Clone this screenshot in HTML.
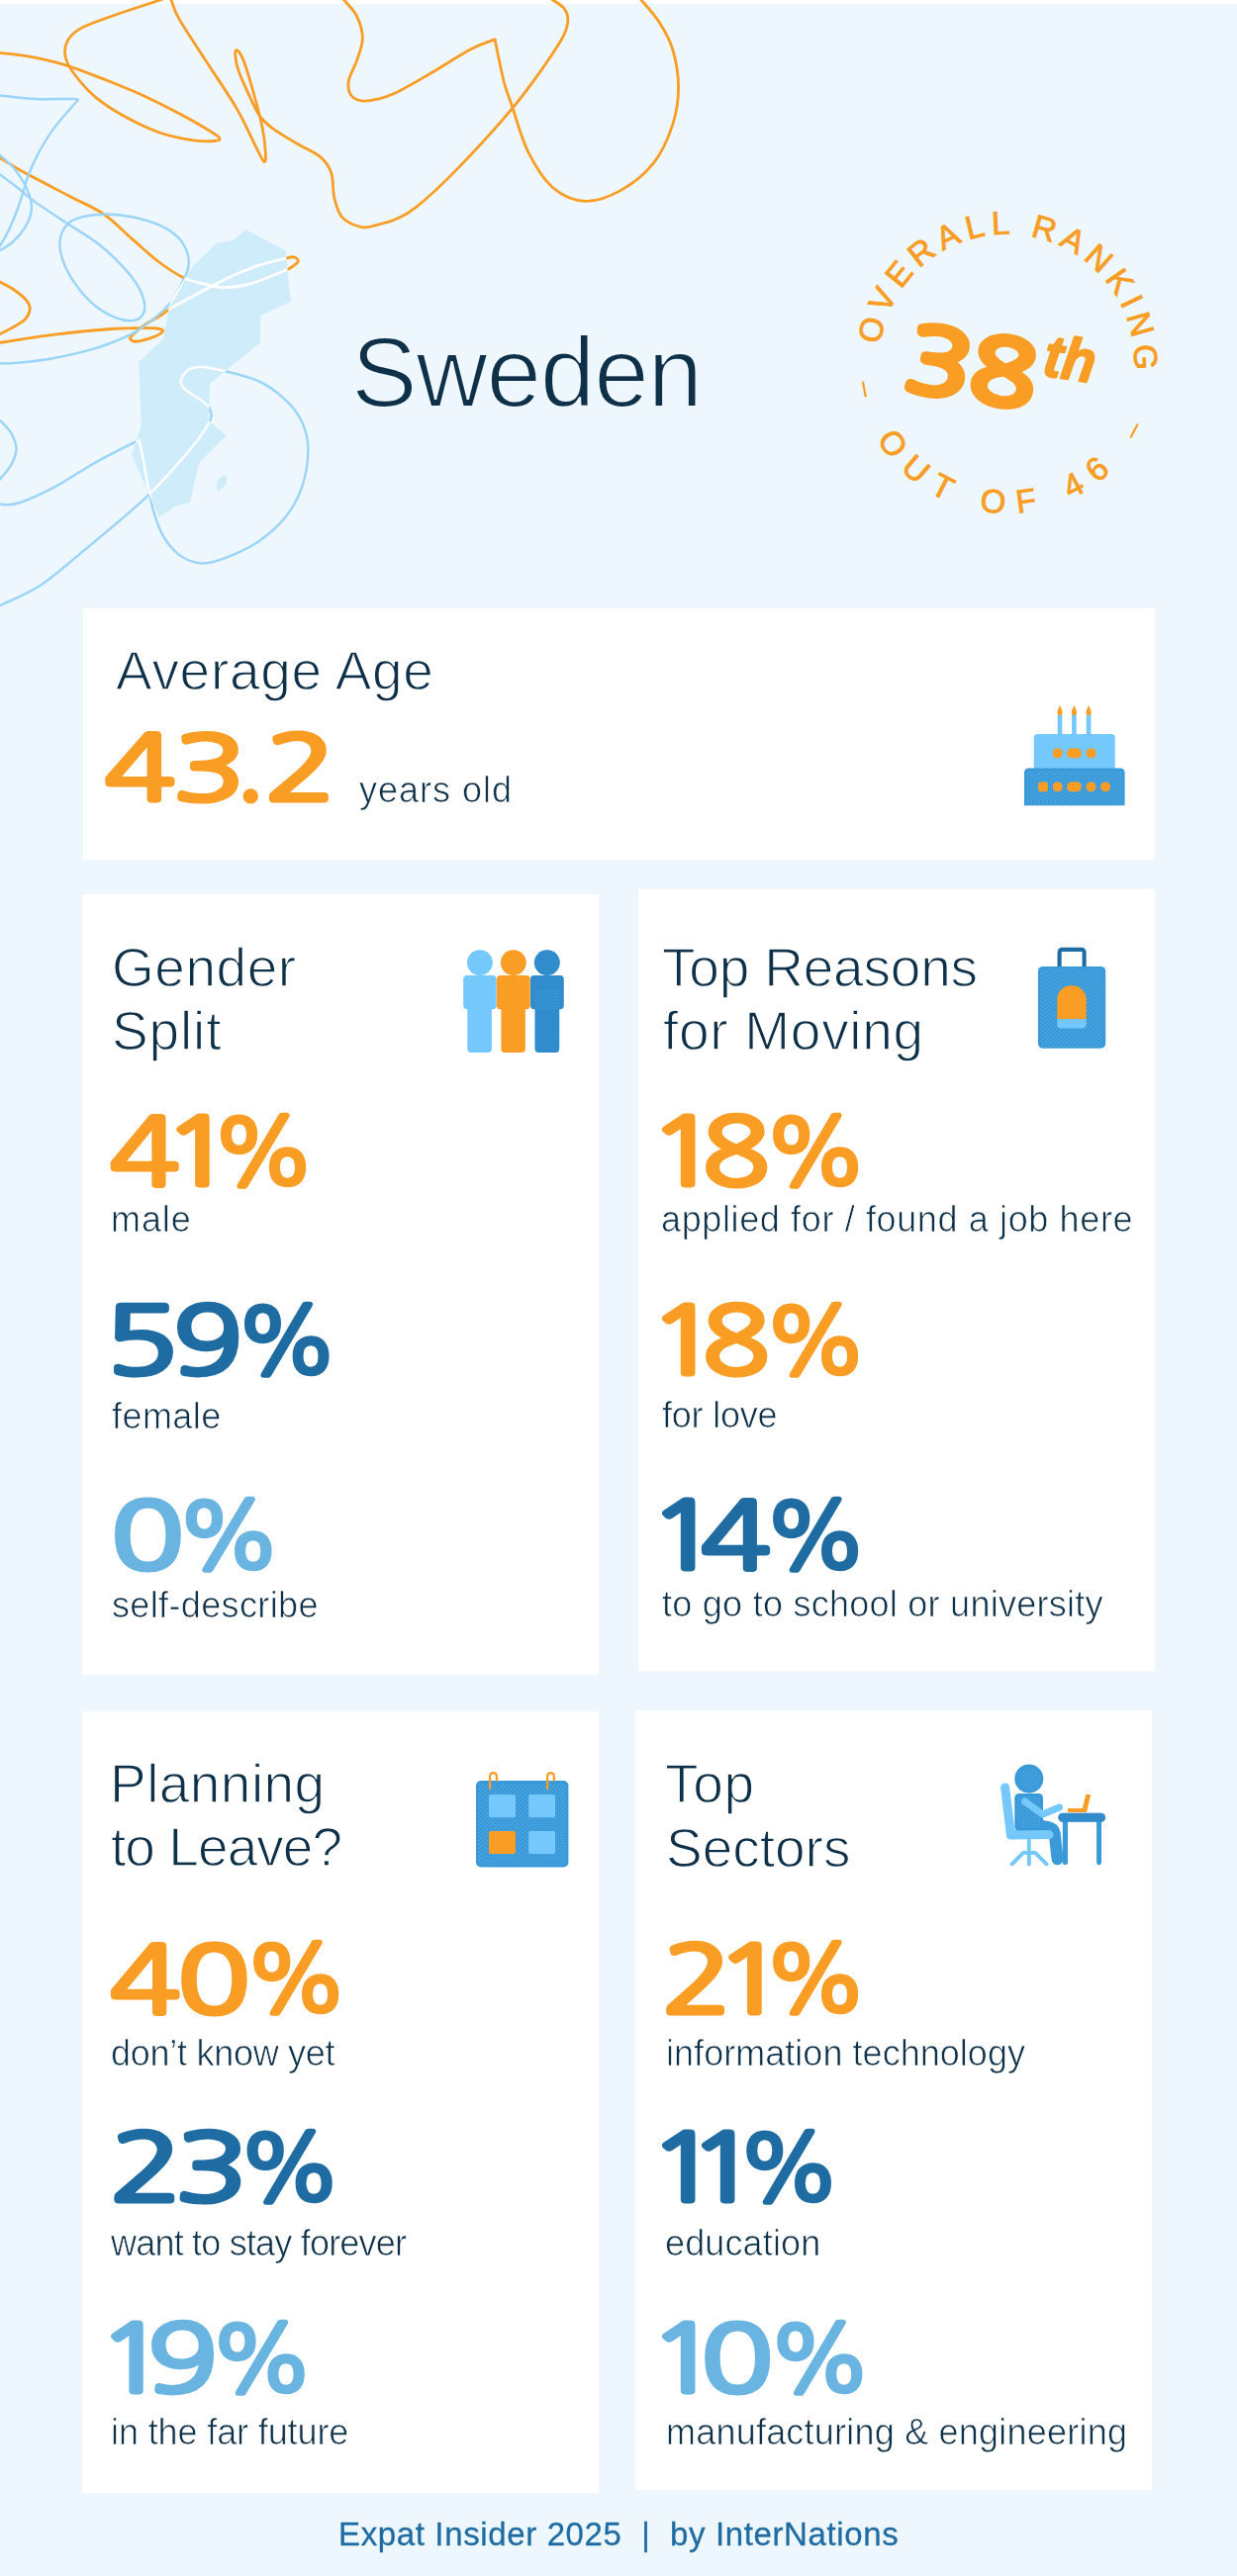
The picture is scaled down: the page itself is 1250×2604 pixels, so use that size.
<!DOCTYPE html>
<html lang="en"><head><meta charset="utf-8"><title>Sweden – Expat Insider 2025</title><style>
html,body{margin:0;padding:0}
body{width:1250px;height:2604px;position:relative;overflow:hidden;background:#edf7fd;font-family:"Liberation Sans",sans-serif}
.topstrip{position:absolute;left:0;top:0;width:1250px;height:3.6px;background:#fff}
.card{position:absolute;background:#fff}
svg{position:absolute;left:0;top:0;overflow:visible}
.x{position:absolute;white-space:pre;line-height:1;margin:0;transform-origin:0 50%;will-change:transform}
.tt{font-size:55px;color:#0f3049;-webkit-text-stroke:1.3px #fff}
.lb{font-size:36px;color:#0f3049;-webkit-text-stroke:0.7px #fff}
.hd{font-size:100px;color:#0f3049;-webkit-text-stroke:2.2px #edf7fd}
.nm{font-size:106px;font-weight:700}
.ft{font-size:33px;color:#1f6ca3;-webkit-text-stroke:0.3px #1f6ca3}
</style></head>
<body>
<div class="topstrip"></div>
<svg class="deco" width="760" height="640" viewBox="0 0 760 640"><defs><clipPath id="mapclip"><path d="M248.7 232.3 L288.4 253.2 L293.7 304.8 L263.3 319.0 L263.0 346.6 L212.3 387.5 L210.5 424.9 L228.8 440.0 L200.7 468.4 L191.8 508.1 L177.6 511.7 L160.7 522.7 L133.1 459.5 L142.9 429.3 L140.2 366.2 L165.1 342.2 L172.2 303.9 L195.4 268.4 L219.4 245.6 L234.5 243.5Z"/><path d="M219.4 487.1 L223.8 481.2 L229.5 481.2 L228.8 488.9 L220.3 497.8 L218.8 492.4Z"/></clipPath></defs><g fill="none" stroke="#f99d25" stroke-width="2.8" stroke-linecap="round" stroke-linejoin="round"><path d="M-20.0 52.0 C-16.7 52.2 -8.7 52.5 0.0 53.4 C8.7 54.3 21.0 55.5 32.3 57.6 C43.6 59.8 55.5 62.4 67.9 66.3 C80.3 70.2 93.8 75.7 106.7 80.8 C119.6 85.9 133.1 91.3 145.5 97.0 C157.9 102.7 170.8 109.4 181.1 114.8 C191.3 120.2 200.3 125.3 207.0 129.3 C213.7 133.3 219.8 136.8 221.5 139.0 C223.2 141.2 221.6 142.1 217.0 142.5 C212.4 142.9 203.2 143.0 194.0 141.6 C184.8 140.2 172.5 137.9 161.7 134.2 C150.9 130.5 140.1 125.5 129.3 119.6 C118.5 113.7 105.9 105.9 97.0 98.6 C88.1 91.3 81.1 82.7 76.0 76.0 C70.9 69.3 67.6 63.9 66.3 58.2 C65.0 52.5 65.5 46.9 67.9 42.0 C70.3 37.1 73.2 33.4 80.8 29.1 C88.3 24.8 99.7 21.1 113.2 16.2 C126.7 11.3 148.9 4.4 161.7 0.0 C174.5 -4.4 185.3 -8.3 190.0 -10.0"/><path d="M168.0 -12.0 C168.8 -10.0 170.8 -5.2 173.0 0.0 C175.2 5.2 174.9 8.6 181.1 19.4 C187.3 30.2 200.5 49.6 210.2 64.7 C219.9 79.8 231.2 95.9 239.3 109.9 C247.4 123.9 254.1 139.8 258.7 148.7 C263.3 157.6 265.2 162.2 266.8 163.3 C268.4 164.4 268.7 160.9 268.4 155.2 C268.1 149.5 267.1 139.0 265.2 129.3 C263.3 119.6 260.1 107.8 257.1 97.0 C254.1 86.2 250.1 72.2 247.4 64.7 C244.7 57.2 242.5 53.6 240.9 51.7 C239.3 49.8 237.7 50.2 237.7 53.4 C237.7 56.6 238.8 64.4 240.9 71.1 C243.1 77.8 247.1 86.2 250.6 93.8 C254.1 101.3 257.8 110.5 261.9 116.4 C265.9 122.3 268.4 124.5 274.9 129.3 C281.4 134.2 292.6 140.7 300.7 145.5 C308.8 150.3 317.7 153.6 323.4 158.4 C329.1 163.2 332.3 167.6 334.7 174.6 C337.1 181.6 336.0 192.9 337.9 200.5 C339.8 208.1 341.4 215.1 346.0 219.9 C350.6 224.8 359.7 228.3 365.4 229.6 C371.1 230.9 374.2 228.9 380.0 227.6 C385.8 226.2 393.1 224.6 400.0 221.5 C406.9 218.4 410.8 217.4 421.2 208.9 C431.6 200.4 446.5 186.9 462.5 170.4 C478.5 153.9 502.8 127.3 517.4 109.9 C532.0 92.5 541.7 78.4 550.4 66.0 C559.1 53.6 565.8 43.5 569.7 35.7 C573.6 27.9 573.8 23.8 573.8 19.2 C573.8 14.6 572.2 11.4 569.7 8.2 C567.2 5.0 562.8 2.7 558.7 0.0 C554.6 -2.7 547.3 -6.7 545.0 -8.0"/><path d="M338.0 -12.0 C339.6 -10.0 343.9 -4.7 347.6 0.0 C351.4 4.7 357.4 9.7 360.5 16.2 C363.6 22.7 366.4 31.3 366.4 38.8 C366.4 46.3 362.8 54.4 360.5 61.4 C358.2 68.4 353.6 75.1 352.5 80.8 C351.4 86.5 352.0 91.9 354.1 95.4 C356.2 98.9 360.8 101.1 365.4 101.9 C370.0 102.7 375.8 101.6 381.6 100.2 C387.4 98.8 391.1 98.1 400.0 93.8 C408.9 89.5 422.3 81.6 435.0 74.2 C447.7 66.8 465.3 55.2 476.2 49.5 C487.1 43.8 496.1 41.5 500.1 39.9"/><path d="M500.1 39.9 C501.6 47.0 506.3 71.3 509.2 82.5 C512.1 93.7 513.3 95.3 517.4 107.2 C521.5 119.1 527.0 140.2 533.9 153.9 C540.8 167.7 549.1 181.4 558.7 189.7 C568.3 197.9 580.2 202.9 591.6 203.4 C603.0 203.9 615.9 198.8 627.4 192.4 C638.9 186.0 651.7 175.9 660.4 164.9 C669.1 153.9 675.4 139.2 679.6 126.4 C683.8 113.6 685.6 100.8 685.6 88.0 C685.6 75.2 682.9 60.5 679.6 49.5 C676.3 38.5 671.2 30.2 665.9 22.0 C660.6 13.8 653.0 5.7 648.0 0.0 C643.0 -5.7 638.0 -10.0 636.0 -12.0"/><path d="M-20.0 148.0 C-16.7 149.9 -7.8 155.0 0.0 159.6 C7.8 164.2 14.8 169.1 26.7 175.6 C38.5 182.1 58.1 191.9 71.1 198.7 C84.1 205.5 94.5 209.4 104.9 216.5 C115.3 223.6 124.2 233.4 133.4 241.4 C142.6 249.4 151.5 258.0 160.1 264.5 C168.7 271.0 177.9 276.9 185.0 280.5 C192.1 284.1 195.7 284.4 202.5 286.1 C209.3 287.8 217.3 290.5 225.6 290.6 C233.9 290.8 243.4 289.2 252.3 287.0 C261.2 284.8 272.5 279.7 279.0 277.2 C285.5 274.7 287.8 273.8 291.4 271.9 C294.9 270.0 298.8 267.3 300.3 265.7 C301.9 264.1 301.3 263.1 300.7 262.1 C300.1 261.1 298.5 260.0 296.7 259.8 C294.9 259.6 295.5 259.5 289.6 260.9 C283.7 262.3 270.4 265.4 261.2 268.4 C252.0 271.4 242.5 275.4 234.5 279.0 C226.5 282.6 220.6 285.8 213.2 289.7 C205.8 293.6 197.3 298.1 190.0 302.1 C182.7 306.1 174.0 311.0 169.6 313.7 C165.2 316.4 167.4 315.7 163.4 318.2 C159.4 320.7 150.5 325.4 145.6 328.8 C140.7 332.2 136.3 336.3 134.0 338.6 C131.7 340.9 130.9 341.6 131.7 342.7 C132.4 343.8 134.7 345.5 138.5 345.2 C142.3 344.9 150.3 342.4 154.5 340.9 C158.7 339.4 162.0 337.6 163.4 336.3 C164.8 335.0 165.8 333.7 162.8 332.9 C159.8 332.1 154.9 331.5 145.6 331.5 C136.2 331.5 122.1 331.9 106.7 333.0 C91.3 334.1 71.2 336.1 53.4 338.3 C35.6 340.5 12.2 344.5 0.0 346.3 C-12.2 348.1 -16.7 348.6 -20.0 349.0"/><path d="M-15.0 278.0 C-12.5 279.2 -4.9 282.5 0.0 285.0 C4.9 287.5 9.8 289.9 14.2 293.0 C18.6 296.1 24.0 300.4 26.7 303.7 C29.4 306.9 30.5 309.2 30.2 312.5 C29.9 315.8 28.1 319.9 24.9 323.2 C21.6 326.5 14.8 329.7 10.7 332.1 C6.5 334.5 4.3 335.6 0.0 337.4 C-4.3 339.2 -12.5 342.1 -15.0 343.0"/></g><g fill="none" stroke="#9ad4f8" stroke-width="2.4" stroke-linecap="round" stroke-linejoin="round"><path d="M-15.0 95.0 C-12.5 95.2 -8.4 95.7 0.0 96.5 C8.4 97.3 23.1 99.4 35.6 100.0 C48.1 100.6 67.6 99.7 74.7 100.0 C81.8 100.3 77.7 101.5 78.3 101.8"/><path d="M78.3 101.8 C77.1 103.1 75.2 104.9 71.1 109.8 C66.9 114.7 58.7 123.7 53.4 131.1 C48.1 138.5 43.2 146.6 39.1 154.3 C35.0 162.0 31.2 170.6 28.5 177.4 C25.8 184.2 24.9 189.6 23.1 195.2 C21.3 200.8 20.2 205.0 17.8 211.2 C15.4 217.4 11.9 226.3 8.9 232.5 C5.9 238.7 2.8 243.6 0.0 248.5 C-2.8 253.4 -6.7 259.8 -8.0 262.0"/><path d="M-15.0 145.0 C-12.5 147.0 -4.9 152.7 0.0 156.9 C4.9 161.1 10.1 165.4 14.2 170.3 C18.3 175.2 22.1 181.0 24.9 186.3 C27.7 191.6 30.1 197.3 31.1 202.3 C32.1 207.3 32.1 211.8 31.1 216.5 C30.1 221.2 28.0 225.9 24.9 230.7 C21.8 235.4 16.6 241.3 12.4 245.0 C8.2 248.7 4.1 250.7 0.0 253.0 C-4.1 255.3 -10.0 258.0 -12.0 259.0"/><path d="M-15.0 165.0 C-12.5 166.9 -5.5 172.4 0.0 176.5 C5.5 180.6 11.9 185.2 17.8 189.8 C23.7 194.4 27.1 198.0 35.6 204.1 C44.1 210.2 57.8 219.2 68.5 226.3 C79.2 233.4 90.3 239.4 99.6 246.7 C108.9 254.0 117.7 262.5 124.5 269.9 C131.3 277.3 136.9 284.7 140.5 291.2 C144.1 297.7 145.8 304.2 146.2 309.0 C146.6 313.8 145.3 317.2 143.2 319.7 C141.1 322.2 137.7 323.8 133.4 324.1 C129.1 324.4 123.6 323.9 117.4 321.4 C111.2 318.9 102.8 314.6 96.0 309.0 C89.2 303.4 81.8 295.0 76.5 287.6 C71.2 280.2 66.7 271.9 64.0 264.5 C61.3 257.1 59.8 249.6 60.5 243.2 C61.2 236.8 64.7 230.3 68.5 226.3 C72.3 222.3 77.2 220.8 83.6 219.2 C90.0 217.6 98.4 216.5 106.7 216.5 C115.0 216.5 124.5 217.4 133.4 219.2 C142.3 221.0 152.4 223.8 160.1 227.2 C167.8 230.6 174.7 234.9 179.6 239.6 C184.5 244.3 187.6 250.6 189.4 255.6 C191.2 260.6 191.0 265.1 190.3 269.9 C189.6 274.6 188.0 278.2 185.0 284.1 C182.0 290.0 177.2 299.2 172.5 305.4 C167.8 311.6 163.0 316.1 156.5 321.4 C150.0 326.7 143.2 332.3 133.4 337.4 C123.6 342.4 111.1 347.5 97.8 351.7 C84.5 355.9 66.7 359.8 53.4 362.3 C40.1 364.8 26.7 366.0 17.8 366.8 C8.9 367.6 5.5 367.3 0.0 367.3 C-5.5 367.3 -12.5 367.1 -15.0 367.0"/><path d="M-15.0 617.0 C-12.5 616.2 -9.4 616.3 0.0 612.0 C9.4 607.7 27.5 600.3 41.2 591.4 C55.0 582.5 64.6 573.3 82.5 558.4 C100.4 543.5 130.1 519.4 148.4 502.0 C166.7 484.6 181.9 466.5 192.4 453.9 C202.9 441.3 208.3 433.0 211.6 426.4 C214.9 419.8 213.3 417.5 212.2 414.1 C211.1 410.7 209.0 409.2 204.8 405.8 C200.6 402.4 190.6 396.9 186.9 393.5 C183.2 390.1 182.3 388.4 182.8 385.2 C183.3 382.0 186.3 376.6 189.7 374.2 C193.1 371.8 197.4 370.8 203.4 370.9 C209.4 371.0 215.8 372.4 225.4 374.8 C235.0 377.2 250.6 380.3 261.1 385.2 C271.6 390.1 281.3 397.5 288.6 404.4 C295.9 411.3 301.3 418.1 305.1 426.4 C308.9 434.6 311.4 442.9 311.4 453.9 C311.4 464.9 308.9 480.9 305.1 492.4 C301.3 503.8 295.9 513.4 288.6 522.6 C281.3 531.8 271.2 540.5 261.1 547.4 C251.0 554.3 237.7 560.2 228.1 563.9 C218.5 567.6 211.2 569.9 203.4 569.4 C195.6 568.9 187.8 565.7 181.4 561.1 C175.0 556.5 169.2 549.2 164.9 541.9 C160.6 534.6 157.8 525.4 155.3 517.1 C152.8 508.9 151.6 501.5 149.8 492.4 C148.0 483.2 145.8 470.0 144.3 462.2 C142.8 454.4 141.3 448.4 140.7 445.7"/><path d="M140.7 445.7 C139.9 445.9 143.5 443.4 136.1 447.1 C128.7 450.8 109.7 460.1 96.2 467.7 C82.7 475.2 67.4 485.8 55.0 492.4 C42.6 499.0 30.2 504.5 22.0 507.5 C13.8 510.5 10.2 510.6 5.5 510.3 C0.8 510.1 -3.9 508.7 -6.0 506.0 C-8.1 503.3 -8.0 497.6 -7.0 494.0 C-6.0 490.4 -3.0 488.1 0.0 484.2 C3.0 480.3 8.2 475.4 11.0 470.4 C13.8 465.3 16.5 459.4 16.5 453.9 C16.5 448.4 13.8 442.2 11.0 437.4 C8.2 432.6 3.8 428.7 0.0 425.1 C-3.8 421.5 -10.0 417.5 -12.0 416.0"/></g><path d="M248.7 232.3 L288.4 253.2 L293.7 304.8 L263.3 319.0 L263.0 346.6 L212.3 387.5 L210.5 424.9 L228.8 440.0 L200.7 468.4 L191.8 508.1 L177.6 511.7 L160.7 522.7 L133.1 459.5 L142.9 429.3 L140.2 366.2 L165.1 342.2 L172.2 303.9 L195.4 268.4 L219.4 245.6 L234.5 243.5Z" fill="#ceecf9"/><path d="M219.4 487.1 L223.8 481.2 L229.5 481.2 L228.8 488.9 L220.3 497.8 L218.8 492.4Z" fill="#ceecf9"/><g clip-path="url(#mapclip)" fill="none" stroke="#fff" stroke-linecap="round" stroke-linejoin="round"><g stroke-width="2.9"><path d="M-20.0 52.0 C-16.7 52.2 -8.7 52.5 0.0 53.4 C8.7 54.3 21.0 55.5 32.3 57.6 C43.6 59.8 55.5 62.4 67.9 66.3 C80.3 70.2 93.8 75.7 106.7 80.8 C119.6 85.9 133.1 91.3 145.5 97.0 C157.9 102.7 170.8 109.4 181.1 114.8 C191.3 120.2 200.3 125.3 207.0 129.3 C213.7 133.3 219.8 136.8 221.5 139.0 C223.2 141.2 221.6 142.1 217.0 142.5 C212.4 142.9 203.2 143.0 194.0 141.6 C184.8 140.2 172.5 137.9 161.7 134.2 C150.9 130.5 140.1 125.5 129.3 119.6 C118.5 113.7 105.9 105.9 97.0 98.6 C88.1 91.3 81.1 82.7 76.0 76.0 C70.9 69.3 67.6 63.9 66.3 58.2 C65.0 52.5 65.5 46.9 67.9 42.0 C70.3 37.1 73.2 33.4 80.8 29.1 C88.3 24.8 99.7 21.1 113.2 16.2 C126.7 11.3 148.9 4.4 161.7 0.0 C174.5 -4.4 185.3 -8.3 190.0 -10.0"/><path d="M168.0 -12.0 C168.8 -10.0 170.8 -5.2 173.0 0.0 C175.2 5.2 174.9 8.6 181.1 19.4 C187.3 30.2 200.5 49.6 210.2 64.7 C219.9 79.8 231.2 95.9 239.3 109.9 C247.4 123.9 254.1 139.8 258.7 148.7 C263.3 157.6 265.2 162.2 266.8 163.3 C268.4 164.4 268.7 160.9 268.4 155.2 C268.1 149.5 267.1 139.0 265.2 129.3 C263.3 119.6 260.1 107.8 257.1 97.0 C254.1 86.2 250.1 72.2 247.4 64.7 C244.7 57.2 242.5 53.6 240.9 51.7 C239.3 49.8 237.7 50.2 237.7 53.4 C237.7 56.6 238.8 64.4 240.9 71.1 C243.1 77.8 247.1 86.2 250.6 93.8 C254.1 101.3 257.8 110.5 261.9 116.4 C265.9 122.3 268.4 124.5 274.9 129.3 C281.4 134.2 292.6 140.7 300.7 145.5 C308.8 150.3 317.7 153.6 323.4 158.4 C329.1 163.2 332.3 167.6 334.7 174.6 C337.1 181.6 336.0 192.9 337.9 200.5 C339.8 208.1 341.4 215.1 346.0 219.9 C350.6 224.8 359.7 228.3 365.4 229.6 C371.1 230.9 374.2 228.9 380.0 227.6 C385.8 226.2 393.1 224.6 400.0 221.5 C406.9 218.4 410.8 217.4 421.2 208.9 C431.6 200.4 446.5 186.9 462.5 170.4 C478.5 153.9 502.8 127.3 517.4 109.9 C532.0 92.5 541.7 78.4 550.4 66.0 C559.1 53.6 565.8 43.5 569.7 35.7 C573.6 27.9 573.8 23.8 573.8 19.2 C573.8 14.6 572.2 11.4 569.7 8.2 C567.2 5.0 562.8 2.7 558.7 0.0 C554.6 -2.7 547.3 -6.7 545.0 -8.0"/><path d="M338.0 -12.0 C339.6 -10.0 343.9 -4.7 347.6 0.0 C351.4 4.7 357.4 9.7 360.5 16.2 C363.6 22.7 366.4 31.3 366.4 38.8 C366.4 46.3 362.8 54.4 360.5 61.4 C358.2 68.4 353.6 75.1 352.5 80.8 C351.4 86.5 352.0 91.9 354.1 95.4 C356.2 98.9 360.8 101.1 365.4 101.9 C370.0 102.7 375.8 101.6 381.6 100.2 C387.4 98.8 391.1 98.1 400.0 93.8 C408.9 89.5 422.3 81.6 435.0 74.2 C447.7 66.8 465.3 55.2 476.2 49.5 C487.1 43.8 496.1 41.5 500.1 39.9"/><path d="M500.1 39.9 C501.6 47.0 506.3 71.3 509.2 82.5 C512.1 93.7 513.3 95.3 517.4 107.2 C521.5 119.1 527.0 140.2 533.9 153.9 C540.8 167.7 549.1 181.4 558.7 189.7 C568.3 197.9 580.2 202.9 591.6 203.4 C603.0 203.9 615.9 198.8 627.4 192.4 C638.9 186.0 651.7 175.9 660.4 164.9 C669.1 153.9 675.4 139.2 679.6 126.4 C683.8 113.6 685.6 100.8 685.6 88.0 C685.6 75.2 682.9 60.5 679.6 49.5 C676.3 38.5 671.2 30.2 665.9 22.0 C660.6 13.8 653.0 5.7 648.0 0.0 C643.0 -5.7 638.0 -10.0 636.0 -12.0"/><path d="M-20.0 148.0 C-16.7 149.9 -7.8 155.0 0.0 159.6 C7.8 164.2 14.8 169.1 26.7 175.6 C38.5 182.1 58.1 191.9 71.1 198.7 C84.1 205.5 94.5 209.4 104.9 216.5 C115.3 223.6 124.2 233.4 133.4 241.4 C142.6 249.4 151.5 258.0 160.1 264.5 C168.7 271.0 177.9 276.9 185.0 280.5 C192.1 284.1 195.7 284.4 202.5 286.1 C209.3 287.8 217.3 290.5 225.6 290.6 C233.9 290.8 243.4 289.2 252.3 287.0 C261.2 284.8 272.5 279.7 279.0 277.2 C285.5 274.7 287.8 273.8 291.4 271.9 C294.9 270.0 298.8 267.3 300.3 265.7 C301.9 264.1 301.3 263.1 300.7 262.1 C300.1 261.1 298.5 260.0 296.7 259.8 C294.9 259.6 295.5 259.5 289.6 260.9 C283.7 262.3 270.4 265.4 261.2 268.4 C252.0 271.4 242.5 275.4 234.5 279.0 C226.5 282.6 220.6 285.8 213.2 289.7 C205.8 293.6 197.3 298.1 190.0 302.1 C182.7 306.1 174.0 311.0 169.6 313.7 C165.2 316.4 167.4 315.7 163.4 318.2 C159.4 320.7 150.5 325.4 145.6 328.8 C140.7 332.2 136.3 336.3 134.0 338.6 C131.7 340.9 130.9 341.6 131.7 342.7 C132.4 343.8 134.7 345.5 138.5 345.2 C142.3 344.9 150.3 342.4 154.5 340.9 C158.7 339.4 162.0 337.6 163.4 336.3 C164.8 335.0 165.8 333.7 162.8 332.9 C159.8 332.1 154.9 331.5 145.6 331.5 C136.2 331.5 122.1 331.9 106.7 333.0 C91.3 334.1 71.2 336.1 53.4 338.3 C35.6 340.5 12.2 344.5 0.0 346.3 C-12.2 348.1 -16.7 348.6 -20.0 349.0"/><path d="M-15.0 278.0 C-12.5 279.2 -4.9 282.5 0.0 285.0 C4.9 287.5 9.8 289.9 14.2 293.0 C18.6 296.1 24.0 300.4 26.7 303.7 C29.4 306.9 30.5 309.2 30.2 312.5 C29.9 315.8 28.1 319.9 24.9 323.2 C21.6 326.5 14.8 329.7 10.7 332.1 C6.5 334.5 4.3 335.6 0.0 337.4 C-4.3 339.2 -12.5 342.1 -15.0 343.0"/></g><g stroke-width="2.5"><path d="M-15.0 95.0 C-12.5 95.2 -8.4 95.7 0.0 96.5 C8.4 97.3 23.1 99.4 35.6 100.0 C48.1 100.6 67.6 99.7 74.7 100.0 C81.8 100.3 77.7 101.5 78.3 101.8"/><path d="M78.3 101.8 C77.1 103.1 75.2 104.9 71.1 109.8 C66.9 114.7 58.7 123.7 53.4 131.1 C48.1 138.5 43.2 146.6 39.1 154.3 C35.0 162.0 31.2 170.6 28.5 177.4 C25.8 184.2 24.9 189.6 23.1 195.2 C21.3 200.8 20.2 205.0 17.8 211.2 C15.4 217.4 11.9 226.3 8.9 232.5 C5.9 238.7 2.8 243.6 0.0 248.5 C-2.8 253.4 -6.7 259.8 -8.0 262.0"/><path d="M-15.0 145.0 C-12.5 147.0 -4.9 152.7 0.0 156.9 C4.9 161.1 10.1 165.4 14.2 170.3 C18.3 175.2 22.1 181.0 24.9 186.3 C27.7 191.6 30.1 197.3 31.1 202.3 C32.1 207.3 32.1 211.8 31.1 216.5 C30.1 221.2 28.0 225.9 24.9 230.7 C21.8 235.4 16.6 241.3 12.4 245.0 C8.2 248.7 4.1 250.7 0.0 253.0 C-4.1 255.3 -10.0 258.0 -12.0 259.0"/><path d="M-15.0 165.0 C-12.5 166.9 -5.5 172.4 0.0 176.5 C5.5 180.6 11.9 185.2 17.8 189.8 C23.7 194.4 27.1 198.0 35.6 204.1 C44.1 210.2 57.8 219.2 68.5 226.3 C79.2 233.4 90.3 239.4 99.6 246.7 C108.9 254.0 117.7 262.5 124.5 269.9 C131.3 277.3 136.9 284.7 140.5 291.2 C144.1 297.7 145.8 304.2 146.2 309.0 C146.6 313.8 145.3 317.2 143.2 319.7 C141.1 322.2 137.7 323.8 133.4 324.1 C129.1 324.4 123.6 323.9 117.4 321.4 C111.2 318.9 102.8 314.6 96.0 309.0 C89.2 303.4 81.8 295.0 76.5 287.6 C71.2 280.2 66.7 271.9 64.0 264.5 C61.3 257.1 59.8 249.6 60.5 243.2 C61.2 236.8 64.7 230.3 68.5 226.3 C72.3 222.3 77.2 220.8 83.6 219.2 C90.0 217.6 98.4 216.5 106.7 216.5 C115.0 216.5 124.5 217.4 133.4 219.2 C142.3 221.0 152.4 223.8 160.1 227.2 C167.8 230.6 174.7 234.9 179.6 239.6 C184.5 244.3 187.6 250.6 189.4 255.6 C191.2 260.6 191.0 265.1 190.3 269.9 C189.6 274.6 188.0 278.2 185.0 284.1 C182.0 290.0 177.2 299.2 172.5 305.4 C167.8 311.6 163.0 316.1 156.5 321.4 C150.0 326.7 143.2 332.3 133.4 337.4 C123.6 342.4 111.1 347.5 97.8 351.7 C84.5 355.9 66.7 359.8 53.4 362.3 C40.1 364.8 26.7 366.0 17.8 366.8 C8.9 367.6 5.5 367.3 0.0 367.3 C-5.5 367.3 -12.5 367.1 -15.0 367.0"/><path d="M-15.0 617.0 C-12.5 616.2 -9.4 616.3 0.0 612.0 C9.4 607.7 27.5 600.3 41.2 591.4 C55.0 582.5 64.6 573.3 82.5 558.4 C100.4 543.5 130.1 519.4 148.4 502.0 C166.7 484.6 181.9 466.5 192.4 453.9 C202.9 441.3 208.3 433.0 211.6 426.4 C214.9 419.8 213.3 417.5 212.2 414.1 C211.1 410.7 209.0 409.2 204.8 405.8 C200.6 402.4 190.6 396.9 186.9 393.5 C183.2 390.1 182.3 388.4 182.8 385.2 C183.3 382.0 186.3 376.6 189.7 374.2 C193.1 371.8 197.4 370.8 203.4 370.9 C209.4 371.0 215.8 372.4 225.4 374.8 C235.0 377.2 250.6 380.3 261.1 385.2 C271.6 390.1 281.3 397.5 288.6 404.4 C295.9 411.3 301.3 418.1 305.1 426.4 C308.9 434.6 311.4 442.9 311.4 453.9 C311.4 464.9 308.9 480.9 305.1 492.4 C301.3 503.8 295.9 513.4 288.6 522.6 C281.3 531.8 271.2 540.5 261.1 547.4 C251.0 554.3 237.7 560.2 228.1 563.9 C218.5 567.6 211.2 569.9 203.4 569.4 C195.6 568.9 187.8 565.7 181.4 561.1 C175.0 556.5 169.2 549.2 164.9 541.9 C160.6 534.6 157.8 525.4 155.3 517.1 C152.8 508.9 151.6 501.5 149.8 492.4 C148.0 483.2 145.8 470.0 144.3 462.2 C142.8 454.4 141.3 448.4 140.7 445.7"/><path d="M140.7 445.7 C139.9 445.9 143.5 443.4 136.1 447.1 C128.7 450.8 109.7 460.1 96.2 467.7 C82.7 475.2 67.4 485.8 55.0 492.4 C42.6 499.0 30.2 504.5 22.0 507.5 C13.8 510.5 10.2 510.6 5.5 510.3 C0.8 510.1 -3.9 508.7 -6.0 506.0 C-8.1 503.3 -8.0 497.6 -7.0 494.0 C-6.0 490.4 -3.0 488.1 0.0 484.2 C3.0 480.3 8.2 475.4 11.0 470.4 C13.8 465.3 16.5 459.4 16.5 453.9 C16.5 448.4 13.8 442.2 11.0 437.4 C8.2 432.6 3.8 428.7 0.0 425.1 C-3.8 421.5 -10.0 417.5 -12.0 416.0"/></g></g></svg>
<svg class="badge" width="1250" height="640" viewBox="0 0 1250 640"><defs><path id="arcT" d="M888.22 368.28 A129.00 129.00 0 0 1 1145.69 354.33"/><path id="arcB" d="M899.31 463.33 A153.00 153.00 0 0 0 1138.09 459.57"/></defs><g transform="rotate(8.75 1017.2 365.8)" fill="#f99d25" stroke="#f99d25" stroke-width="0" font-family="Liberation Sans, sans-serif"><text font-size="33" stroke-width="0.9" textLength="396.3" lengthAdjust="spacing"><textPath href="#arcT" textLength="396.3" lengthAdjust="spacing">OVERALL RANKING</textPath></text><text font-size="33" stroke-width="0.9" textLength="274.0" lengthAdjust="spacing"><textPath href="#arcB" textLength="274.0" lengthAdjust="spacing">OUT OF 46</textPath></text><line x1="881.6" y1="421.7" x2="876.9" y2="408.5" stroke="#f99d25" stroke-width="2.2" stroke-linecap="round"/><line x1="1157.5" y1="408.5" x2="1152.8" y2="421.7" stroke="#f99d25" stroke-width="2.2" stroke-linecap="round"/><text font-family="NanumGothic, Liberation Sans, sans-serif" font-size="90.0" stroke-width="8" stroke-linejoin="round" stroke-linecap="round"><tspan x="916.9" y="408.9" textLength="132.3" lengthAdjust="spacingAndGlyphs">38</tspan><tspan x="1054.2" y="373.8" font-family="Liberation Sans, sans-serif" font-size="60" font-weight="700" font-style="italic" stroke-width="2" textLength="52" lengthAdjust="spacingAndGlyphs">th</tspan></text></g></svg>
<div class="card" style="left:83.5px;top:614.7px;width:1083.5px;height:254.4px"></div><div class="card" style="left:82.6px;top:903.6px;width:522.2px;height:789.6px"></div><div class="card" style="left:644.9px;top:899.4px;width:522.1px;height:789.8px"></div><div class="card" style="left:83.3px;top:1730.4px;width:521.7px;height:789.8px"></div><div class="card" style="left:641.7px;top:1728.8px;width:522.2px;height:788.5px"></div>
<svg class="icons" width="1250" height="2604" viewBox="0 0 1250 2604"><defs><pattern id="dots" width="4" height="4" patternUnits="userSpaceOnUse"><rect x="0" y="0" width="1" height="1" fill="#8fd0f5" opacity="0.5"/><rect x="2" y="2" width="1" height="1" fill="#8fd0f5" opacity="0.5"/></pattern><pattern id="zz" width="3" height="3" patternUnits="userSpaceOnUse"><path d="M0 0L1.5 1.5L0 3M1.5 0L3 1.5L1.5 3" stroke="#3a9ad9" stroke-width="0.7" fill="none"/></pattern></defs><rect x="1044.7" y="741.9" width="82.1" height="38.1" rx="4.0" fill="#74c8fb" /><path d="M1035 814.3V781a4.5 4.5 0 0 1 4.500 -4.500H1132.1a4.500 4.500 0 0 1 4.500 4.500V814.3Z" fill="#3a9ad9"/><path d="M1037 812.5V782a3 3 0 0 1 3-3H1131.5a3 3 0 0 1 3 3V812.5Z" fill="url(#dots)"/><rect x="1068.7" y="722.4" width="4.6" height="20" fill="#74c8fb"/><path d="M1071.0 712.8C1072.2 716 1073.6 718.5 1073.6 720.5A2.6 2.6 0 0 1 1068.4 720.5C1068.4 718.5 1069.8 716 1071.0 712.8Z" fill="#f99d25"/><rect x="1083.1" y="722.4" width="4.6" height="20" fill="#74c8fb"/><path d="M1085.4 712.8C1086.6 716 1088.0 718.5 1088.0 720.5A2.6 2.6 0 0 1 1082.8 720.5C1082.8 718.5 1084.2 716 1085.4 712.8Z" fill="#f99d25"/><rect x="1097.8" y="722.4" width="4.6" height="20" fill="#74c8fb"/><path d="M1100.1 712.8C1101.3 716 1102.7 718.5 1102.7 720.5A2.6 2.6 0 0 1 1097.5 720.5C1097.5 718.5 1098.9 716 1100.1 712.8Z" fill="#f99d25"/><rect x="1063.8" y="756.4" width="9.7" height="9.8" rx="4.2" fill="#f99d25" /><rect x="1078.2" y="756.4" width="14.5" height="9.8" rx="4.2" fill="#f99d25" /><rect x="1097.7" y="756.4" width="9.7" height="9.8" rx="4.2" fill="#f99d25" /><rect x="1049.2" y="790.4" width="9.7" height="9.8" rx="2.2" fill="#f99d25" /><rect x="1063.8" y="790.4" width="9.7" height="9.8" rx="4.4" fill="#f99d25" /><rect x="1078.2" y="790.4" width="14.5" height="9.8" rx="4.4" fill="#f99d25" /><rect x="1097.7" y="790.4" width="9.7" height="9.8" rx="4.4" fill="#f99d25" /><rect x="1112.2" y="790.4" width="9.7" height="9.8" rx="4.4" fill="#f99d25" /><g fill="#74c8fb"><circle cx="484.9" cy="973.1" r="12.9"/><rect x="468.2" y="985.9" width="33.4" height="34.3" rx="4.0"  /><rect x="472.3" y="1000.0" width="24.6" height="63.9" rx="4.0"  /></g><g fill="#f99d25"><circle cx="518.8" cy="973.1" r="12.9"/><rect x="501.8" y="985.9" width="33.9" height="34.3" rx="4.0"  /><rect x="506.4" y="1000.0" width="24.5" height="63.9" rx="4.0"  /></g><g fill="#2b82c4"><circle cx="552.8" cy="973.1" r="12.9"/><rect x="536.0" y="985.9" width="33.7" height="34.3" rx="4.0"  /><rect x="540.6" y="1000.0" width="24.6" height="63.9" rx="4.0"  /></g><g fill="url(#zz)"><circle cx="552.8" cy="973.1" r="12.9"/><rect x="536.0" y="985.9" width="33.7" height="34.3" rx="4.0"  /><rect x="540.6" y="1000.0" width="24.6" height="63.9" rx="4.0"  /></g><rect x="1070.6" y="959.9" width="25" height="22" rx="2.5" fill="none" stroke="#1f6ca3" stroke-width="4.1"/><rect x="1048.9" y="976.9" width="68.3" height="82.8" rx="5.0" fill="#3a9ad9" /><rect x="1051.5" y="979.5" width="63.1" height="77.5" rx="3.0" fill="url(#dots)" /><path d="M1068.2 1030.3V1010.5a14.4 14.2 0 0 1 14.4 -14.2h0.7a14.4 14.2 0 0 1 14.4 14.2V1030.3Z" fill="#f99d25"/><path d="M1068.2 1030.3H1097.7V1035.6a4 4 0 0 1 -4 4H1072.2a4 4 0 0 1 -4 -4Z" fill="#74c8fb"/><rect x="481.0" y="1800.1" width="93.4" height="87.3" rx="5.0" fill="#3a9ad9" /><rect x="484.0" y="1803.0" width="87.4" height="81.4" rx="3.0" fill="url(#dots)" /><rect x="494.0" y="1814.1" width="27.0" height="23.2" rx="2.0" fill="#74c8fb" /><rect x="494.0" y="1850.9" width="27.0" height="23.2" rx="2.0" fill="#f99d25" /><rect x="534.1" y="1814.1" width="27.0" height="23.2" rx="2.0" fill="#74c8fb" /><rect x="534.1" y="1850.9" width="27.0" height="23.2" rx="2.0" fill="#74c8fb" /><path d="M495.1 1808V1795.5a3.4 3.4 0 0 1 6.8 0V1800" fill="none" stroke="#f99d25" stroke-width="2.3" stroke-linecap="round"/><path d="M553.1 1808V1795.5a3.4 3.4 0 0 1 6.8 0V1800" fill="none" stroke="#f99d25" stroke-width="2.3" stroke-linecap="round"/><g fill="none" stroke="#74c8fb" stroke-linecap="round" stroke-linejoin="round"><path d="M1015.6 1806.9L1021.4 1854.6L1060 1854.6" stroke-width="9"/><path d="M1039.8 1860V1884.5M1022.7 1884.3L1034 1872.9H1046L1057.6 1884.3" stroke-width="3.9"/></g><circle cx="1039.8" cy="1798.1" r="14.5" fill="#3a9ad9"/><rect x="1025.3" y="1813.0" width="28.7" height="38.0" rx="4.5" fill="#3a9ad9" /><path d="M1040 1843.5L1060.5 1847.5Q1065 1848.5 1065.6 1853L1068.6 1879.3" fill="none" stroke="#3a9ad9" stroke-width="12" stroke-linecap="round" stroke-linejoin="round"/><circle cx="1039.8" cy="1798.1" r="11" fill="url(#dots)"/><rect x="1028.0" y="1816.0" width="23.5" height="32.0" rx="3.0" fill="url(#dots)" /><path d="M1035.6 1821.1L1053.7 1834.1L1070.5 1827" fill="none" stroke="#74c8fb" stroke-width="7.1" stroke-linecap="round" stroke-linejoin="round"/><path d="M1021.4 1855L1060 1854.6" fill="none" stroke="#74c8fb" stroke-width="9" stroke-linecap="round"/><rect x="1073.8" y="1838.0" width="5.2" height="47.2" rx="2.4" fill="#3a9ad9" /><rect x="1108.1" y="1838.0" width="4.9" height="47.2" rx="2.4" fill="#3a9ad9" /><rect x="1069.3" y="1832.8" width="47.8" height="9.0" rx="4.5" fill="#2b82c4" /><rect x="1069.3" y="1832.8" width="47.8" height="9.0" rx="4.5" fill="url(#zz)" /><path d="M1079 1828H1093.8L1097.4 1813.8L1102.2 1814.3L1098 1832.1H1079Z" fill="#f99d25"/></svg>
<svg class="nums" width="1250" height="2604" viewBox="0 0 1250 2604" font-family="NanumGothic, Liberation Sans, sans-serif" stroke-linejoin="round" stroke-linecap="round"><text y="809.40" font-size="90.85" fill="#f99d25" stroke="#f99d25" stroke-width="5.0"><tspan x="105.63" y="809.40" textLength="71.61" lengthAdjust="spacingAndGlyphs">4</tspan><tspan x="174.69" y="809.40" textLength="73.66" lengthAdjust="spacingAndGlyphs">3</tspan><tspan x="237.08" y="804.66" font-size="103.00">.</tspan><tspan x="267.80" y="809.40" textLength="71.99" lengthAdjust="spacingAndGlyphs">2</tspan></text><text y="1198.10" font-size="94.21" fill="#f99d25" stroke="#f99d25" stroke-width="5.0"><tspan x="110.83" y="1198.10" textLength="70.73" lengthAdjust="spacingAndGlyphs">4</tspan><tspan x="164.63" y="1198.10" textLength="72.27" lengthAdjust="spacingAndGlyphs">1</tspan><tspan x="213.06" y="1197.73" font-size="91.62" stroke-width="4.4" textLength="106.17" lengthAdjust="spacingAndGlyphs">%</tspan></text><text y="1389.10" font-size="94.21" fill="#1f6ca3" stroke="#1f6ca3" stroke-width="5.0"><tspan x="105.69" y="1389.10" textLength="74.96" lengthAdjust="spacingAndGlyphs">5</tspan><tspan x="175.11" y="1389.10" textLength="70.17" lengthAdjust="spacingAndGlyphs">9</tspan><tspan x="237.25" y="1388.73" font-size="91.62" stroke-width="4.4" textLength="105.18" lengthAdjust="spacingAndGlyphs">%</tspan></text><text y="1586.40" font-size="94.21" fill="#6ab4e2" stroke="#6ab4e2" stroke-width="5.0"><tspan x="111.76" y="1586.40" textLength="74.54" lengthAdjust="spacingAndGlyphs">0</tspan><tspan x="177.70" y="1586.03" font-size="91.62" stroke-width="4.4" textLength="106.91" lengthAdjust="spacingAndGlyphs">%</tspan></text><text y="1198.10" font-size="94.21" fill="#f99d25" stroke="#f99d25" stroke-width="5.0"><tspan x="655.05" y="1198.10" textLength="72.70" lengthAdjust="spacingAndGlyphs">1</tspan><tspan x="709.44" y="1198.10" textLength="68.63" lengthAdjust="spacingAndGlyphs">8</tspan><tspan x="771.39" y="1197.73" font-size="91.62" stroke-width="4.4" textLength="105.92" lengthAdjust="spacingAndGlyphs">%</tspan></text><text y="1389.10" font-size="94.21" fill="#f99d25" stroke="#f99d25" stroke-width="5.0"><tspan x="655.05" y="1389.10" textLength="72.70" lengthAdjust="spacingAndGlyphs">1</tspan><tspan x="709.44" y="1389.10" textLength="68.63" lengthAdjust="spacingAndGlyphs">8</tspan><tspan x="771.39" y="1388.73" font-size="91.62" stroke-width="4.4" textLength="105.92" lengthAdjust="spacingAndGlyphs">%</tspan></text><text y="1586.40" font-size="94.21" fill="#1f6ca3" stroke="#1f6ca3" stroke-width="5.0"><tspan x="655.05" y="1586.40" textLength="72.70" lengthAdjust="spacingAndGlyphs">1</tspan><tspan x="708.03" y="1586.40" textLength="70.93" lengthAdjust="spacingAndGlyphs">4</tspan><tspan x="771.39" y="1586.03" font-size="91.62" stroke-width="4.4" textLength="105.92" lengthAdjust="spacingAndGlyphs">%</tspan></text><text y="2034.80" font-size="94.21" fill="#f99d25" stroke="#f99d25" stroke-width="5.0"><tspan x="111.02" y="2034.80" textLength="71.34" lengthAdjust="spacingAndGlyphs">4</tspan><tspan x="179.09" y="2034.80" textLength="74.09" lengthAdjust="spacingAndGlyphs">0</tspan><tspan x="246.17" y="2034.43" font-size="91.62" stroke-width="4.4" textLength="106.04" lengthAdjust="spacingAndGlyphs">%</tspan></text><text y="2225.30" font-size="94.21" fill="#1f6ca3" stroke="#1f6ca3" stroke-width="5.0"><tspan x="110.90" y="2225.30" textLength="73.48" lengthAdjust="spacingAndGlyphs">2</tspan><tspan x="177.06" y="2225.30" textLength="73.82" lengthAdjust="spacingAndGlyphs">3</tspan><tspan x="239.87" y="2224.93" font-size="91.62" stroke-width="4.4" textLength="106.04" lengthAdjust="spacingAndGlyphs">%</tspan></text><text y="2418.20" font-size="94.21" fill="#6ab4e2" stroke="#6ab4e2" stroke-width="5.0"><tspan x="98.42" y="2418.20" textLength="70.75" lengthAdjust="spacingAndGlyphs">1</tspan><tspan x="149.06" y="2418.20" textLength="70.95" lengthAdjust="spacingAndGlyphs">9</tspan><tspan x="211.33" y="2417.83" font-size="91.62" stroke-width="4.4" textLength="106.54" lengthAdjust="spacingAndGlyphs">%</tspan></text><text y="2034.80" font-size="94.21" fill="#f99d25" stroke="#f99d25" stroke-width="5.0"><tspan x="668.95" y="2034.80" textLength="70.95" lengthAdjust="spacingAndGlyphs">2</tspan><tspan x="722.35" y="2034.80" textLength="72.70" lengthAdjust="spacingAndGlyphs">1</tspan><tspan x="771.39" y="2034.43" font-size="91.62" stroke-width="4.4" textLength="105.92" lengthAdjust="spacingAndGlyphs">%</tspan></text><text y="2225.30" font-size="94.21" fill="#1f6ca3" stroke="#1f6ca3" stroke-width="5.0"><tspan x="655.05" y="2225.30" textLength="72.70" lengthAdjust="spacingAndGlyphs">1</tspan><tspan x="695.05" y="2225.30" textLength="72.70" lengthAdjust="spacingAndGlyphs">1</tspan><tspan x="744.53" y="2224.93" font-size="91.62" stroke-width="4.4" textLength="105.43" lengthAdjust="spacingAndGlyphs">%</tspan></text><text y="2418.20" font-size="94.21" fill="#6ab4e2" stroke="#6ab4e2" stroke-width="5.0"><tspan x="655.05" y="2418.20" textLength="72.70" lengthAdjust="spacingAndGlyphs">1</tspan><tspan x="708.01" y="2418.20" textLength="73.65" lengthAdjust="spacingAndGlyphs">0</tspan><tspan x="775.59" y="2417.83" font-size="91.62" stroke-width="4.4" textLength="105.92" lengthAdjust="spacingAndGlyphs">%</tspan></text></svg>
<div class="x hd" style="left:355.30px;top:325.95px;letter-spacing:-1.232px">Sweden</div>
<div class="x tt" style="left:116.65px;top:651.44px;letter-spacing:0.699px">Average Age</div>
<div class="x tt" style="left:112.85px;top:951.34px;letter-spacing:0.533px">Gender</div>
<div class="x tt" style="left:112.85px;top:1015.04px;letter-spacing:0.872px">Split</div>
<div class="x tt" style="left:669.35px;top:950.74px;letter-spacing:-0.193px">Top Reasons</div>
<div class="x tt" style="left:669.55px;top:1014.64px;letter-spacing:0.714px">for Moving</div>
<div class="x tt" style="left:111.45px;top:1775.74px;letter-spacing:0.446px">Planning</div>
<div class="x tt" style="left:112.45px;top:1840.04px;letter-spacing:-0.938px">to Leave?</div>
<div class="x tt" style="left:672.35px;top:1775.74px;letter-spacing:0.656px">Top</div>
<div class="x tt" style="left:672.55px;top:1841.34px;letter-spacing:-0.010px">Sectors</div>
<div class="x lb" style="left:363.25px;top:781.43px;letter-spacing:0.993px">years old</div>
<div class="x lb" style="left:111.65px;top:1215.03px;letter-spacing:0.897px">male</div>
<div class="x lb" style="left:113.15px;top:1413.73px;letter-spacing:0.454px">female</div>
<div class="x lb" style="left:112.65px;top:1604.73px;letter-spacing:0.362px">self-describe</div>
<div class="x lb" style="left:667.55px;top:1214.83px;letter-spacing:0.627px">applied for / found a job here</div>
<div class="x lb" style="left:668.55px;top:1412.93px;letter-spacing:-0.219px">for love</div>
<div class="x lb" style="left:668.55px;top:1604.23px;letter-spacing:0.260px">to go to school or university</div>
<div class="x lb" style="left:111.75px;top:2057.93px;letter-spacing:-0.272px">don’t know yet</div>
<div class="x lb" style="left:111.65px;top:2250.13px;letter-spacing:-0.797px">want to stay forever</div>
<div class="x lb" style="left:111.65px;top:2441.23px;letter-spacing:-0.114px">in the far future</div>
<div class="x lb" style="left:672.85px;top:2057.93px;letter-spacing:0.037px">information technology</div>
<div class="x lb" style="left:671.75px;top:2250.13px;letter-spacing:0.137px">education</div>
<div class="x lb" style="left:672.85px;top:2440.53px;letter-spacing:0.216px">manufacturing &amp; engineering</div>
<div class="x ft" style="left:341.60px;top:2545.07px;letter-spacing:0.633px">Expat Insider 2025  |  by InterNations</div>
</body></html>
